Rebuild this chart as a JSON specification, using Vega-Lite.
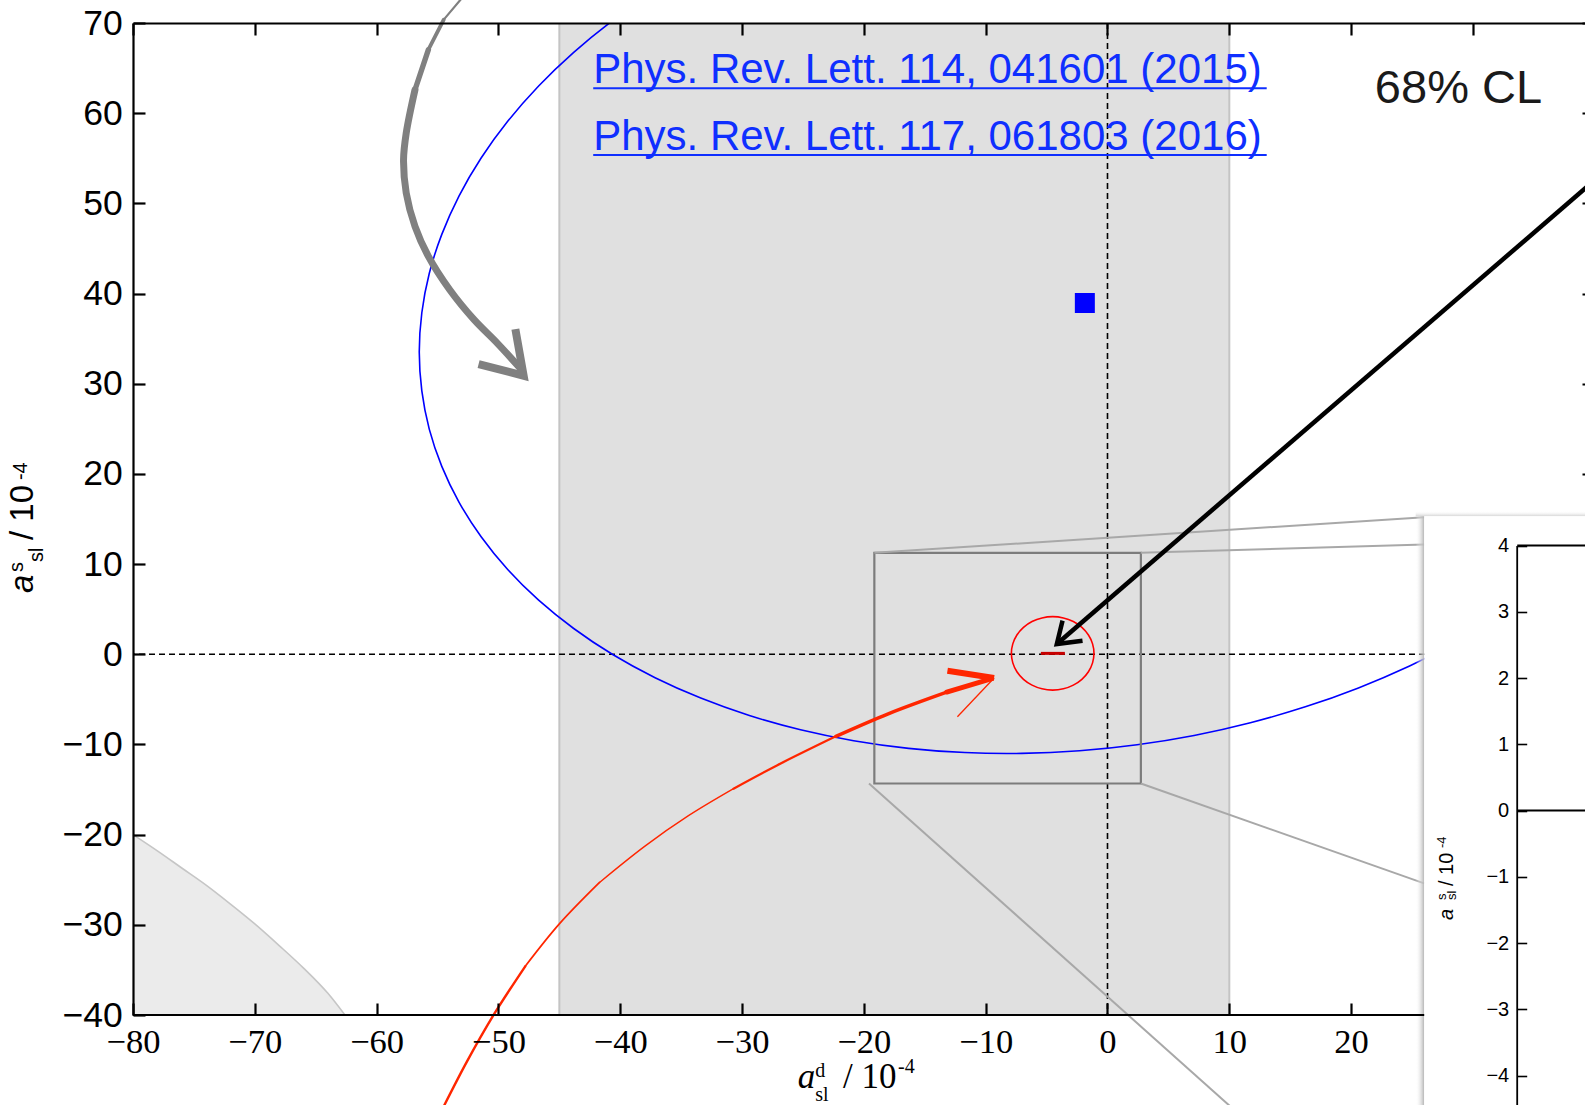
{
  "$schema": "https://vega.github.io/schema/vega-lite/v6.json",
  "width": 1452,
  "height": 992,
  "autosize": {"type": "none"},
  "padding": {"left": 133, "top": 23, "right": 0, "bottom": 90},
  "background": "white",
  "config": {
    "view": {"stroke": null},
    "font": "Liberation Sans",
    "axis": {"grid": false, "domainColor": "black", "tickColor": "black", "labelColor": "black"}
  },
  "datasets": {
    "band": [{"x1": -45, "x2": 10}],
    "bandEdges": [{"x": -45}, {"x": 10}],
    "zeros": [{"v": 0}],
    "bottomLine": [{"x1": -80, "x2": 26.0, "y": -40}],
    "corner": [
      {"x": -80, "y": -20.0}, {"x": -78, "y": -21.8}, {"x": -76, "y": -23.7}, {"x": -74, "y": -25.6},
      {"x": -72, "y": -27.7}, {"x": -70, "y": -29.9}, {"x": -68, "y": -32.3}, {"x": -66, "y": -34.8},
      {"x": -64, "y": -37.6}, {"x": -62.6, "y": -40.0}
    ],
    "ellipse": [
      {"i": 0, "x": -37.14, "y": 73.55}, {"i": 1, "x": -40.62, "y": 70.27}, {"i": 2, "x": -43.82, "y": 66.75},
      {"i": 3, "x": -46.70, "y": 63.02}, {"i": 4, "x": -49.24, "y": 59.10}, {"i": 5, "x": -51.42, "y": 55.03},
      {"i": 6, "x": -53.23, "y": 50.84}, {"i": 7, "x": -54.65, "y": 46.56}, {"i": 8, "x": -55.68, "y": 42.23},
      {"i": 9, "x": -56.29, "y": 37.87}, {"i": 10, "x": -56.5, "y": 33.52}, {"i": 11, "x": -56.29, "y": 29.20},
      {"i": 12, "x": -55.68, "y": 24.97}, {"i": 13, "x": -54.65, "y": 20.84}, {"i": 14, "x": -53.23, "y": 16.85},
      {"i": 15, "x": -51.42, "y": 13.03}, {"i": 16, "x": -49.24, "y": 9.40}, {"i": 17, "x": -46.70, "y": 6.00},
      {"i": 18, "x": -43.82, "y": 2.86}, {"i": 19, "x": -40.62, "y": -0.03}, {"i": 20, "x": -37.14, "y": -2.60},
      {"i": 21, "x": -33.39, "y": -4.86}, {"i": 22, "x": -29.40, "y": -6.79}, {"i": 23, "x": -25.20, "y": -8.37},
      {"i": 24, "x": -20.84, "y": -9.58}, {"i": 25, "x": -16.33, "y": -10.43}, {"i": 26, "x": -11.71, "y": -10.90},
      {"i": 27, "x": -7.03, "y": -10.99}, {"i": 28, "x": -2.30, "y": -10.70}, {"i": 29, "x": 2.43, "y": -10.03},
      {"i": 30, "x": 7.11, "y": -9.00}, {"i": 31, "x": 11.73, "y": -7.59}, {"i": 32, "x": 16.24, "y": -5.83},
      {"i": 33, "x": 20.60, "y": -3.73}, {"i": 34, "x": 24.80, "y": -1.30}, {"i": 35, "x": 28.79, "y": 1.43},
      {"i": 36, "x": 32.54, "y": 4.46}
    ],
    "redCircle": [
      {"i": 0, "x": -1.11, "y": 0.1}, {"i": 1, "x": -1.226, "y": 1.153}, {"i": 2, "x": -1.564, "y": 2.135},
      {"i": 3, "x": -2.103, "y": 2.978}, {"i": 4, "x": -2.805, "y": 3.625}, {"i": 5, "x": -3.623, "y": 4.031},
      {"i": 6, "x": -4.5, "y": 4.17}, {"i": 7, "x": -5.377, "y": 4.031}, {"i": 8, "x": -6.195, "y": 3.625},
      {"i": 9, "x": -6.897, "y": 2.978}, {"i": 10, "x": -7.436, "y": 2.135}, {"i": 11, "x": -7.774, "y": 1.153},
      {"i": 12, "x": -7.89, "y": 0.1}, {"i": 13, "x": -7.774, "y": -0.953}, {"i": 14, "x": -7.436, "y": -1.935},
      {"i": 15, "x": -6.897, "y": -2.778}, {"i": 16, "x": -6.195, "y": -3.425}, {"i": 17, "x": -5.377, "y": -3.831},
      {"i": 18, "x": -4.5, "y": -3.97}, {"i": 19, "x": -3.623, "y": -3.831}, {"i": 20, "x": -2.805, "y": -3.425},
      {"i": 21, "x": -2.103, "y": -2.778}, {"i": 22, "x": -1.564, "y": -1.935}, {"i": 23, "x": -1.226, "y": -0.953}
    ],
    "redBar": [{"x1": -5.47, "x2": -3.5, "y": 0.1}],
    "blueSquare": [{"x": -1.86, "y": 38.95}],
    "zoomBox": [{"x1": -19.14, "x2": 2.74, "y1": 11.25, "y2": -14.33}],
    "connectors": [
      {"x1": -19.14, "y1": 11.25, "x2": 26.0, "y2": 15.2},
      {"x1": 2.74, "y1": 11.25, "x2": 26.0, "y2": 12.17},
      {"x1": 2.74, "y1": -14.33, "x2": 26.0, "y2": -25.4},
      {"x1": -19.58, "y1": -14.33, "x2": 10.6, "y2": -50.76}
    ],
    "insetPanel": [{"x1": 26.0, "x2": 45, "y1": 15.3, "y2": -60}],
    "insetShadowL": [{"x1": 25.3, "x2": 26.0, "y1": 15.3, "y2": -60}],
    "insetShadowT": [{"x1": 25.3, "x2": 45, "y1": 15.9, "y2": 15.3}],
    "grayArrow": [
      {"i": 0, "x": -53.1, "y": 72.6}, {"i": 1, "x": -54.49, "y": 70.37}, {"i": 2, "x": -55.75, "y": 67.04},
      {"i": 3, "x": -56.85, "y": 62.6}, {"i": 4, "x": -57.57, "y": 57.8}, {"i": 5, "x": -57.79, "y": 54.84},
      {"i": 6, "x": -57.57, "y": 51.15}, {"i": 7, "x": -56.85, "y": 47.45}, {"i": 8, "x": -55.75, "y": 44.12},
      {"i": 9, "x": -54.0, "y": 40.42}, {"i": 10, "x": -52.0, "y": 37.1}, {"i": 11, "x": -50.1, "y": 34.5},
      {"i": 12, "x": -48.2, "y": 31.7}
    ],
    "grayHead": [{"i": 0, "x": -48.61, "y": 36.06}, {"i": 1, "x": -47.93, "y": 30.89}, {"i": 2, "x": -51.63, "y": 32.18}],
    "redArrow": [
      {"i": 0, "x": -55.0, "y": -51.5}, {"i": 1, "x": -52.6, "y": -45.2}, {"i": 2, "x": -50.4, "y": -40.0},
      {"i": 3, "x": -47.8, "y": -34.6}, {"i": 4, "x": -45.0, "y": -29.9}, {"i": 5, "x": -41.7, "y": -25.3},
      {"i": 6, "x": -38.0, "y": -21.3}, {"i": 7, "x": -34.4, "y": -17.9}, {"i": 8, "x": -30.7, "y": -14.9},
      {"i": 9, "x": -27.1, "y": -12.3}, {"i": 10, "x": -22.3, "y": -9.1}, {"i": 11, "x": -18.0, "y": -6.6},
      {"i": 12, "x": -13.2, "y": -4.2}, {"i": 13, "x": -9.5, "y": -2.7}
    ],
    "redBarbThick": [{"x1": -13.14, "y1": -1.82, "x2": -9.31, "y2": -2.63}],
    "redBarbThin": [{"x1": -9.31, "y1": -2.63, "x2": -12.32, "y2": -6.92}],
    "blackShaft": [{"x1": 42, "y1": 54.9, "x2": -4.16, "y2": 1.14}],
    "blackHead": [{"i": 0, "x": -3.69, "y": 3.73}, {"i": 1, "x": -4.16, "y": 1.14}, {"i": 2, "x": -2.05, "y": 1.51}],
    "insetLines": [{"x1": 33.64, "x2": 45, "v": 4}, {"x1": 33.64, "x2": 45, "v": 0}],
    "links": [
      {"t": "Phys. Rev. Lett. 114, 041601 (2015)", "x": -42.22, "y": 63.31},
      {"t": "Phys. Rev. Lett. 117, 061803 (2016)", "x": -42.22, "y": 55.92}
    ],
    "underlines": [{"x1": -42.22, "x2": 13.07, "y": 62.76}, {"x1": -42.22, "x2": 13.07, "y": 55.36}],
    "cl": [{"t": "68% CL", "x": 21.95, "y": 61.1}],
    "titles": [
      {"g": "xa", "t": "a", "x": -25.42, "y": -48.1},
      {"g": "xb", "t": "/ 10", "x": -21.72, "y": -48.1},
      {"g": "xs", "t": "d", "x": -24.0, "y": -46.84},
      {"g": "xs", "t": "sl", "x": -24.0, "y": -49.55},
      {"g": "xs", "t": "-4", "x": -17.2, "y": -46.43},
      {"g": "ya", "t": "a", "x": -88.2, "y": 6.8},
      {"g": "yb", "t": "/ 10", "x": -88.2, "y": 12.67},
      {"g": "ys", "t": "s", "x": -89.02, "y": 9.12},
      {"g": "ys", "t": "sl", "x": -87.38, "y": 10.23},
      {"g": "ys", "t": "-4", "x": -88.74, "y": 19.32},
      {"g": "ia", "t": "a", "x": 28.36, "y": -29.47},
      {"g": "ib", "t": "/ 10", "x": 28.36, "y": -25.7},
      {"g": "is", "t": "s", "x": 27.83, "y": -27.25},
      {"g": "is", "t": "sl", "x": 28.64, "y": -27.25},
      {"g": "is", "t": "-4", "x": 27.79, "y": -21.48}
    ]
  },
  "layer": [
    {
      "layer": [
        {
          "data": {"name": "band"},
          "mark": {"type": "rect", "fill": "black", "fillOpacity": 0.12},
          "encoding": {
            "x": {"field": "x1", "type": "quantitative", "scale": {"domain": [-80, 39.2], "nice": false, "zero": false}, "axis": null},
            "x2": {"field": "x2"},
            "y": {"datum": 70, "type": "quantitative", "scale": {"domain": [-40, 70], "nice": false, "zero": false}, "axis": null},
            "y2": {"datum": -40}
          }
        },
        {
          "data": {"name": "bandEdges"},
          "mark": {"type": "rule", "color": "#c4c4c4", "strokeWidth": 2},
          "encoding": {"x": {"field": "x", "type": "quantitative", "axis": null}}
        },
        {
          "data": {"name": "corner"},
          "mark": {"type": "area", "fill": "black", "fillOpacity": 0.08, "interpolate": "monotone"},
          "encoding": {
            "x": {"field": "x", "type": "quantitative", "axis": null},
            "y": {"field": "y", "type": "quantitative", "axis": null},
            "y2": {"datum": -40}
          }
        },
        {
          "data": {"name": "corner"},
          "mark": {"type": "line", "color": "#c6c6c6", "strokeWidth": 1.6, "interpolate": "monotone"},
          "encoding": {
            "x": {"field": "x", "type": "quantitative", "axis": null},
            "y": {"field": "y", "type": "quantitative", "axis": null}
          }
        },
        {
          "data": {"name": "zeros"},
          "mark": {"type": "rule", "color": "black", "strokeWidth": 1.6, "strokeDash": [6, 4]},
          "encoding": {"x": {"field": "v", "type": "quantitative", "axis": null}}
        },
        {
          "data": {"name": "zeros"},
          "mark": {"type": "rule", "color": "black", "strokeWidth": 1.6, "strokeDash": [6, 4]},
          "encoding": {"y": {"field": "v", "type": "quantitative", "axis": null}}
        },
        {
          "data": {"name": "ellipse"},
          "mark": {"type": "line", "color": "#0000ff", "strokeWidth": 1.6, "interpolate": "catmull-rom", "clip": true},
          "encoding": {
            "x": {"field": "x", "type": "quantitative", "axis": null},
            "y": {"field": "y", "type": "quantitative", "axis": null},
            "order": {"field": "i", "type": "quantitative"}
          }
        },
        {
          "data": {"name": "redCircle"},
          "mark": {"type": "line", "color": "#ff0000", "strokeWidth": 1.6, "interpolate": "cardinal-closed"},
          "encoding": {
            "x": {"field": "x", "type": "quantitative", "axis": null},
            "y": {"field": "y", "type": "quantitative", "axis": null},
            "order": {"field": "i", "type": "quantitative"}
          }
        },
        {
          "data": {"name": "redBar"},
          "mark": {"type": "rule", "color": "#c80000", "strokeWidth": 3},
          "encoding": {
            "x": {"field": "x1", "type": "quantitative", "axis": null},
            "x2": {"field": "x2"},
            "y": {"field": "y", "type": "quantitative", "axis": null}
          }
        },
        {
          "data": {"name": "blueSquare"},
          "mark": {"type": "point", "shape": "square", "filled": true, "size": 400, "color": "#0000ff", "opacity": 1},
          "encoding": {
            "x": {"field": "x", "type": "quantitative", "axis": null},
            "y": {"field": "y", "type": "quantitative", "axis": null}
          }
        },
        {
          "data": {"name": "zoomBox"},
          "mark": {"type": "rect", "fill": "transparent", "stroke": "#7c7c7c", "strokeWidth": 2.2},
          "encoding": {
            "x": {"field": "x1", "type": "quantitative", "axis": null},
            "x2": {"field": "x2"},
            "y": {"field": "y1", "type": "quantitative", "axis": null},
            "y2": {"field": "y2"}
          }
        },
        {
          "data": {"name": "connectors"},
          "mark": {"type": "rule", "color": "#a8a8a8", "strokeWidth": 2},
          "encoding": {
            "x": {"field": "x1", "type": "quantitative", "axis": null},
            "x2": {"field": "x2"},
            "y": {"field": "y1", "type": "quantitative", "axis": null},
            "y2": {"field": "y2"}
          }
        },
        {
          "data": {"name": "insetShadowL"},
          "mark": {"type": "rect", "fill": {"gradient": "linear", "x1": 0, "y1": 0, "x2": 1, "y2": 0,
            "stops": [{"offset": 0, "color": "rgba(255,255,255,0)"}, {"offset": 1, "color": "#b4b4b4"}]}},
          "encoding": {
            "x": {"field": "x1", "type": "quantitative", "axis": null},
            "x2": {"field": "x2"},
            "y": {"field": "y1", "type": "quantitative", "axis": null},
            "y2": {"field": "y2"}
          }
        },
        {
          "data": {"name": "insetShadowT"},
          "mark": {"type": "rect", "fill": {"gradient": "linear", "x1": 0, "y1": 0, "x2": 0, "y2": 1,
            "stops": [{"offset": 0, "color": "rgba(255,255,255,0)"}, {"offset": 1, "color": "#d4d4d4"}]}},
          "encoding": {
            "x": {"field": "x1", "type": "quantitative", "axis": null},
            "x2": {"field": "x2"},
            "y": {"field": "y1", "type": "quantitative", "axis": null},
            "y2": {"field": "y2"}
          }
        },
        {
          "data": {"name": "insetPanel"},
          "mark": {"type": "rect", "fill": "white"},
          "encoding": {
            "x": {"field": "x1", "type": "quantitative", "axis": null},
            "x2": {"field": "x2"},
            "y": {"field": "y1", "type": "quantitative", "axis": null},
            "y2": {"field": "y2"}
          }
        },
        {
          "data": {"name": "grayArrow"},
          "transform": [{"filter": "datum.i <= 1"}],
          "mark": {"type": "line", "color": "#808080", "strokeWidth": 2.2, "strokeCap": "round", "interpolate": "catmull-rom"},
          "encoding": {
            "x": {"field": "x", "type": "quantitative", "axis": null},
            "y": {"field": "y", "type": "quantitative", "axis": null},
            "order": {"field": "i", "type": "quantitative"}
          }
        },
        {
          "data": {"name": "grayArrow"},
          "transform": [{"filter": "datum.i >= 1 && datum.i <= 2"}],
          "mark": {"type": "line", "color": "#808080", "strokeWidth": 3.8, "strokeCap": "round", "interpolate": "catmull-rom"},
          "encoding": {
            "x": {"field": "x", "type": "quantitative", "axis": null},
            "y": {"field": "y", "type": "quantitative", "axis": null},
            "order": {"field": "i", "type": "quantitative"}
          }
        },
        {
          "data": {"name": "grayArrow"},
          "transform": [{"filter": "datum.i >= 2 && datum.i <= 3"}],
          "mark": {"type": "line", "color": "#808080", "strokeWidth": 5.4, "strokeCap": "round", "interpolate": "catmull-rom"},
          "encoding": {
            "x": {"field": "x", "type": "quantitative", "axis": null},
            "y": {"field": "y", "type": "quantitative", "axis": null},
            "order": {"field": "i", "type": "quantitative"}
          }
        },
        {
          "data": {"name": "grayArrow"},
          "transform": [{"filter": "datum.i >= 3"}],
          "mark": {"type": "line", "color": "#808080", "strokeWidth": 7, "strokeCap": "round", "interpolate": "catmull-rom"},
          "encoding": {
            "x": {"field": "x", "type": "quantitative", "axis": null},
            "y": {"field": "y", "type": "quantitative", "axis": null},
            "order": {"field": "i", "type": "quantitative"}
          }
        },
        {
          "data": {"name": "grayHead"},
          "mark": {"type": "line", "color": "#808080", "strokeWidth": 8, "strokeJoin": "miter", "strokeCap": "butt"},
          "encoding": {
            "x": {"field": "x", "type": "quantitative", "axis": null},
            "y": {"field": "y", "type": "quantitative", "axis": null},
            "order": {"field": "i", "type": "quantitative"}
          }
        },
        {
          "data": {"name": "redArrow"},
          "transform": [{"filter": "datum.i <= 3"}],
          "mark": {"type": "line", "color": "#ff2600", "strokeWidth": 2.4, "strokeCap": "round", "interpolate": "catmull-rom"},
          "encoding": {
            "x": {"field": "x", "type": "quantitative", "axis": null},
            "y": {"field": "y", "type": "quantitative", "axis": null},
            "order": {"field": "i", "type": "quantitative"}
          }
        },
        {
          "data": {"name": "redArrow"},
          "transform": [{"filter": "datum.i >= 3 && datum.i <= 5"}],
          "mark": {"type": "line", "color": "#ff2600", "strokeWidth": 1.7, "strokeCap": "round", "interpolate": "catmull-rom"},
          "encoding": {
            "x": {"field": "x", "type": "quantitative", "axis": null},
            "y": {"field": "y", "type": "quantitative", "axis": null},
            "order": {"field": "i", "type": "quantitative"}
          }
        },
        {
          "data": {"name": "redArrow"},
          "transform": [{"filter": "datum.i >= 5 && datum.i <= 8"}],
          "mark": {"type": "line", "color": "#ff2600", "strokeWidth": 1.4, "strokeCap": "round", "interpolate": "catmull-rom"},
          "encoding": {
            "x": {"field": "x", "type": "quantitative", "axis": null},
            "y": {"field": "y", "type": "quantitative", "axis": null},
            "order": {"field": "i", "type": "quantitative"}
          }
        },
        {
          "data": {"name": "redArrow"},
          "transform": [{"filter": "datum.i >= 8 && datum.i <= 10"}],
          "mark": {"type": "line", "color": "#ff2600", "strokeWidth": 2.3, "strokeCap": "round", "interpolate": "catmull-rom"},
          "encoding": {
            "x": {"field": "x", "type": "quantitative", "axis": null},
            "y": {"field": "y", "type": "quantitative", "axis": null},
            "order": {"field": "i", "type": "quantitative"}
          }
        },
        {
          "data": {"name": "redArrow"},
          "transform": [{"filter": "datum.i >= 10 && datum.i <= 12"}],
          "mark": {"type": "line", "color": "#ff2600", "strokeWidth": 3.5, "strokeCap": "round", "interpolate": "catmull-rom"},
          "encoding": {
            "x": {"field": "x", "type": "quantitative", "axis": null},
            "y": {"field": "y", "type": "quantitative", "axis": null},
            "order": {"field": "i", "type": "quantitative"}
          }
        },
        {
          "data": {"name": "redArrow"},
          "transform": [{"filter": "datum.i >= 12"}],
          "mark": {"type": "line", "color": "#ff2600", "strokeWidth": 4.8, "strokeCap": "round", "interpolate": "catmull-rom"},
          "encoding": {
            "x": {"field": "x", "type": "quantitative", "axis": null},
            "y": {"field": "y", "type": "quantitative", "axis": null},
            "order": {"field": "i", "type": "quantitative"}
          }
        },
        {
          "data": {"name": "redBarbThick"},
          "mark": {"type": "rule", "color": "#ff2600", "strokeWidth": 6, "strokeCap": "butt"},
          "encoding": {
            "x": {"field": "x1", "type": "quantitative", "axis": null},
            "x2": {"field": "x2"},
            "y": {"field": "y1", "type": "quantitative", "axis": null},
            "y2": {"field": "y2"}
          }
        },
        {
          "data": {"name": "redBarbThin"},
          "mark": {"type": "rule", "color": "#ff2600", "strokeWidth": 1.3},
          "encoding": {
            "x": {"field": "x1", "type": "quantitative", "axis": null},
            "x2": {"field": "x2"},
            "y": {"field": "y1", "type": "quantitative", "axis": null},
            "y2": {"field": "y2"}
          }
        },
        {
          "data": {"name": "blackShaft"},
          "mark": {"type": "rule", "color": "black", "strokeWidth": 4.5},
          "encoding": {
            "x": {"field": "x1", "type": "quantitative", "axis": null},
            "x2": {"field": "x2"},
            "y": {"field": "y1", "type": "quantitative", "axis": null},
            "y2": {"field": "y2"}
          }
        },
        {
          "data": {"name": "blackHead"},
          "mark": {"type": "line", "color": "black", "strokeWidth": 4.5, "strokeJoin": "miter", "strokeCap": "butt"},
          "encoding": {
            "x": {"field": "x", "type": "quantitative", "axis": null},
            "y": {"field": "y", "type": "quantitative", "axis": null},
            "order": {"field": "i", "type": "quantitative"}
          }
        }
      ]
    },
    {
      "data": {"name": "insetLines"},
      "mark": {"type": "rule", "color": "black", "strokeWidth": 1.8},
      "encoding": {
        "x": {"field": "x1", "type": "quantitative", "scale": {"domain": [-80, 39.2], "nice": false, "zero": false}, "axis": null},
        "x2": {"field": "x2"},
        "y": {"field": "v", "type": "quantitative",
          "scale": {"domain": [-5, 4], "range": [1118.75, 522.5], "nice": false, "zero": false},
          "axis": {"orient": "left", "offset": -1383.7, "values": [-4, -3, -2, -1, 0, 1, 2, 3, 4], "format": "d", "title": null,
            "tickSize": -10, "tickWidth": 1.6, "domainWidth": 1.8, "labelFont": "Liberation Sans", "labelFontSize": 20,
            "labelPadding": 18, "labelFlush": false, "labelOverlap": false, "zindex": 1}}
      }
    },
    {
      "data": {"name": "bottomLine"},
      "mark": {"type": "rule", "color": "black", "strokeWidth": 2.2},
      "encoding": {
        "x": {"field": "x1", "type": "quantitative", "scale": {"domain": [-80, 39.2], "nice": false, "zero": false},
          "axis": {"orient": "bottom", "values": [-80, -70, -60, -50, -40, -30, -20, -10, 0, 10, 20], "format": "d", "title": null,
            "domain": false, "tickSize": -12, "tickWidth": 2.2, "labelFont": "Liberation Serif", "labelFontSize": 34.5,
            "labelPadding": 22.5, "labelFlush": false, "labelOverlap": false, "zindex": 1}},
        "x2": {"field": "x2"},
        "y": {"field": "y", "type": "quantitative", "scale": {"domain": [-40, 70], "nice": false, "zero": false},
          "axis": {"orient": "left", "values": [-40, -30, -20, -10, 0, 10, 20, 30, 40, 50, 60, 70], "format": "d", "title": null,
            "tickSize": -12, "tickWidth": 2.2, "domainWidth": 2.2, "labelFont": "Liberation Sans", "labelFontSize": 35.5,
            "labelPadding": 22.7, "labelFlush": false, "labelOverlap": false, "zindex": 1}}
      }
    },
    {
      "data": {"name": "cl"},
      "mark": {"type": "text", "align": "left", "baseline": "alphabetic", "font": "Liberation Sans", "fontSize": 47, "color": "#1a1a1a"},
      "encoding": {
        "x": {"field": "x", "type": "quantitative", "scale": {"domain": [-80, 39.2], "nice": false, "zero": false},
          "axis": {"orient": "top", "values": [-80, -70, -60, -50, -40, -30, -20, -10, 0, 10, 20, 30], "title": null,
            "tickSize": -12, "tickWidth": 2.2, "domainWidth": 2.2, "labels": false, "zindex": 1}},
        "y": {"field": "y", "type": "quantitative", "scale": {"domain": [-40, 70], "nice": false, "zero": false},
          "axis": {"orient": "right", "values": [20, 30, 40, 50, 60, 70], "title": null,
            "tickSize": -3, "tickWidth": 2, "domain": false, "labels": false, "zindex": 1}},
        "text": {"field": "t"}
      }
    },
    {
      "layer": [
        {
          "data": {"name": "links"},
          "mark": {"type": "text", "align": "left", "baseline": "alphabetic", "font": "Liberation Sans", "fontSize": 42, "color": "#0f2fff"},
          "encoding": {
            "x": {"field": "x", "type": "quantitative", "scale": {"domain": [-80, 39.2], "nice": false, "zero": false}, "axis": null},
            "y": {"field": "y", "type": "quantitative", "scale": {"domain": [-40, 70], "nice": false, "zero": false}, "axis": null},
            "text": {"field": "t"}
          }
        },
        {
          "data": {"name": "underlines"},
          "mark": {"type": "rule", "color": "#0f2fff", "strokeWidth": 2},
          "encoding": {
            "x": {"field": "x1", "type": "quantitative", "axis": null},
            "x2": {"field": "x2"},
            "y": {"field": "y", "type": "quantitative", "axis": null}
          }
        },
        {
          "data": {"name": "titles"},
          "transform": [{"filter": "datum.g === 'xa'"}],
          "mark": {"type": "text", "align": "left", "baseline": "alphabetic", "font": "Liberation Serif", "fontStyle": "italic", "fontSize": 35, "color": "black"},
          "encoding": {
            "x": {"field": "x", "type": "quantitative", "axis": null},
            "y": {"field": "y", "type": "quantitative", "axis": null},
            "text": {"field": "t"}
          }
        },
        {
          "data": {"name": "titles"},
          "transform": [{"filter": "datum.g === 'xb'"}],
          "mark": {"type": "text", "align": "left", "baseline": "alphabetic", "font": "Liberation Serif", "fontSize": 35, "color": "black"},
          "encoding": {
            "x": {"field": "x", "type": "quantitative", "axis": null},
            "y": {"field": "y", "type": "quantitative", "axis": null},
            "text": {"field": "t"}
          }
        },
        {
          "data": {"name": "titles"},
          "transform": [{"filter": "datum.g === 'xs'"}],
          "mark": {"type": "text", "align": "left", "baseline": "alphabetic", "font": "Liberation Serif", "fontSize": 20, "color": "black"},
          "encoding": {
            "x": {"field": "x", "type": "quantitative", "axis": null},
            "y": {"field": "y", "type": "quantitative", "axis": null},
            "text": {"field": "t"}
          }
        },
        {
          "data": {"name": "titles"},
          "transform": [{"filter": "datum.g === 'ya'"}],
          "mark": {"type": "text", "align": "left", "baseline": "alphabetic", "angle": 270, "font": "Liberation Sans", "fontStyle": "italic", "fontSize": 33, "color": "black"},
          "encoding": {
            "x": {"field": "x", "type": "quantitative", "axis": null},
            "y": {"field": "y", "type": "quantitative", "axis": null},
            "text": {"field": "t"}
          }
        },
        {
          "data": {"name": "titles"},
          "transform": [{"filter": "datum.g === 'yb'"}],
          "mark": {"type": "text", "align": "left", "baseline": "alphabetic", "angle": 270, "font": "Liberation Sans", "fontSize": 33, "color": "black"},
          "encoding": {
            "x": {"field": "x", "type": "quantitative", "axis": null},
            "y": {"field": "y", "type": "quantitative", "axis": null},
            "text": {"field": "t"}
          }
        },
        {
          "data": {"name": "titles"},
          "transform": [{"filter": "datum.g === 'ys'"}],
          "mark": {"type": "text", "align": "left", "baseline": "alphabetic", "angle": 270, "font": "Liberation Sans", "fontSize": 20, "color": "black"},
          "encoding": {
            "x": {"field": "x", "type": "quantitative", "axis": null},
            "y": {"field": "y", "type": "quantitative", "axis": null},
            "text": {"field": "t"}
          }
        },
        {
          "data": {"name": "titles"},
          "transform": [{"filter": "datum.g === 'ia'"}],
          "mark": {"type": "text", "align": "left", "baseline": "alphabetic", "angle": 270, "font": "Liberation Sans", "fontStyle": "italic", "fontSize": 20, "color": "black"},
          "encoding": {
            "x": {"field": "x", "type": "quantitative", "axis": null},
            "y": {"field": "y", "type": "quantitative", "axis": null},
            "text": {"field": "t"}
          }
        },
        {
          "data": {"name": "titles"},
          "transform": [{"filter": "datum.g === 'ib'"}],
          "mark": {"type": "text", "align": "left", "baseline": "alphabetic", "angle": 270, "font": "Liberation Sans", "fontSize": 20, "color": "black"},
          "encoding": {
            "x": {"field": "x", "type": "quantitative", "axis": null},
            "y": {"field": "y", "type": "quantitative", "axis": null},
            "text": {"field": "t"}
          }
        },
        {
          "data": {"name": "titles"},
          "transform": [{"filter": "datum.g === 'is'"}],
          "mark": {"type": "text", "align": "left", "baseline": "alphabetic", "angle": 270, "font": "Liberation Sans", "fontSize": 13, "color": "black"},
          "encoding": {
            "x": {"field": "x", "type": "quantitative", "axis": null},
            "y": {"field": "y", "type": "quantitative", "axis": null},
            "text": {"field": "t"}
          }
        }
      ]
    }
  ],
  "resolve": {"scale": {"x": "independent", "y": "independent"}}
}
